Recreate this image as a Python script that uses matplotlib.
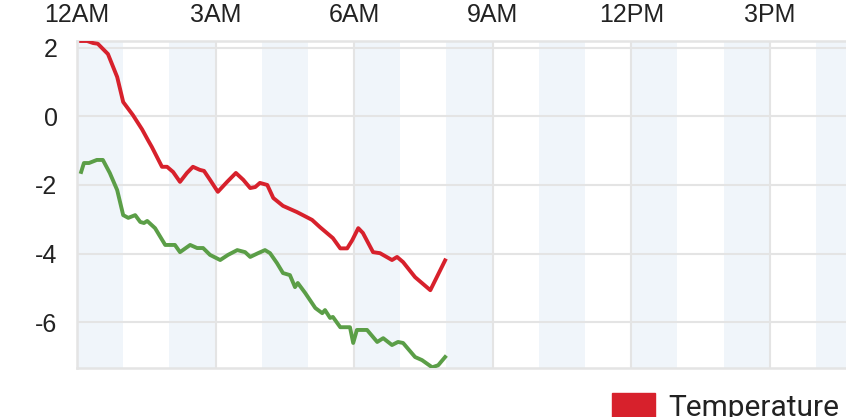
import matplotlib.pyplot as plt
import matplotlib.patches as mpatches
import numpy as np

plt.rcParams['axes.unicode_minus'] = False
plt.rcParams['font.family'] = ['Liberation Sans', 'DejaVu Sans']

# Hours since midnight and temperatures
temp_hours = [0.09, 0.22, 0.35, 0.45, 0.67, 0.87, 1.00, 1.21, 1.41, 1.54, 1.62, 1.84,
              1.95, 2.08, 2.23, 2.38, 2.51, 2.66, 2.75, 2.88, 3.05, 3.25, 3.44, 3.60,
              3.75, 3.86, 3.96, 4.12, 4.25, 4.46, 4.66, 4.76, 4.89, 5.09, 5.26, 5.54,
              5.70, 5.85, 5.96, 6.09, 6.19, 6.41, 6.56, 6.82, 6.93, 7.06, 7.32, 7.65, 7.97]
temperature = [2.2, 2.2, 2.14, 2.12, 1.82, 1.15, 0.42, 0.04, -0.38, -0.7, -0.89, -1.47,
               -1.47, -1.62, -1.91, -1.65, -1.47, -1.56, -1.59, -1.85, -2.2, -1.91, -1.65, -1.85,
               -2.09, -2.06, -1.94, -2.0, -2.38, -2.61, -2.73, -2.79, -2.88, -3.02, -3.23, -3.55,
               -3.85, -3.85, -3.61, -3.26, -3.4, -3.96, -3.99, -4.19, -4.1, -4.25, -4.69, -5.07, -4.2]

dew_hours = [0.09, 0.15, 0.26, 0.43, 0.56, 0.71, 0.87, 1.00, 1.11, 1.26, 1.37, 1.45,
             1.52, 1.69, 1.91, 2.12, 2.23, 2.45, 2.60, 2.73, 2.88, 3.10, 3.27, 3.47,
             3.64, 3.75, 3.92, 4.07, 4.18, 4.33, 4.46, 4.61, 4.72, 4.78, 4.94, 5.16,
             5.31, 5.37, 5.48, 5.54, 5.70, 5.91, 5.98, 6.06, 6.28, 6.50, 6.63, 6.82,
             6.95, 7.06, 7.32, 7.47, 7.69, 7.82, 7.97]
dew_point = [-1.62, -1.36, -1.36, -1.27, -1.27, -1.65, -2.15, -2.88, -2.96, -2.88, -3.08, -3.11,
             -3.05, -3.26, -3.75, -3.75, -3.96, -3.75, -3.84, -3.84, -4.04, -4.19, -4.04, -3.9,
             -3.96, -4.1, -3.99, -3.9, -3.99, -4.28, -4.57, -4.63, -4.98, -4.86, -5.15, -5.59,
             -5.74, -5.65, -5.88, -5.85, -6.15, -6.15, -6.61, -6.23, -6.23, -6.58, -6.47, -6.67,
             -6.58, -6.61, -7.02, -7.11, -7.32, -7.26, -7.02]

tick_hours = [0, 3, 6, 9, 12, 15]
tick_labels = ['12AM', '3AM', '6AM', '9AM', '12PM', '3PM']
y_ticks = [-6, -4, -2, 0, 2]

red = '#d7212c'
green = '#5b9e47'
grid_col = '#e4e4e4'

fig = plt.figure(figsize=(8.46, 4.17), dpi=100)
ax = fig.add_axes([77/846, 1 - 368/417, 1 - 77/846, (368 - 41)/417])

# alternating hour bands
for h in range(0, 18, 2):
    ax.axvspan(h, h + 1, color='#f0f5fa', lw=0, zorder=0)

ax.plot(temp_hours, temperature, color=red, lw=2.8, zorder=3, solid_joinstyle='round')
ax.plot(dew_hours, dew_point, color=green, lw=2.8, zorder=3, solid_joinstyle='round')

ax.set_xlim(0, 16.65)
ax.set_ylim(-7.34, 2.2)
ax.set_xticks(tick_hours, tick_labels)
ax.set_yticks(y_ticks)
ax.xaxis.tick_top()
ax.tick_params(axis='x', length=0, pad=10, labelsize=18, colors='#222222')
ax.tick_params(axis='y', length=0, pad=14, labelsize=18, colors='#222222')
ax.grid(True, color=grid_col, lw=1.5, zorder=1)
ax.set_axisbelow(True)
for s in ['top', 'bottom', 'left', 'right']:
    ax.spines[s].set_color(grid_col)
    ax.spines[s].set_linewidth(1.8)
ax.spines['right'].set_visible(False)

# legend swatch, partly cut off at the bottom edge
fig.patches.append(mpatches.Rectangle((612/846, 0), 43/846, 24/417, transform=fig.transFigure,
                                      color=red, figure=fig))
fig.text(668/846, 1/417, 'Temperature', fontsize=21.5, family='Roboto', color='#222222',
         ha='left', va='baseline')

fig.savefig('out.png', dpi=100)
